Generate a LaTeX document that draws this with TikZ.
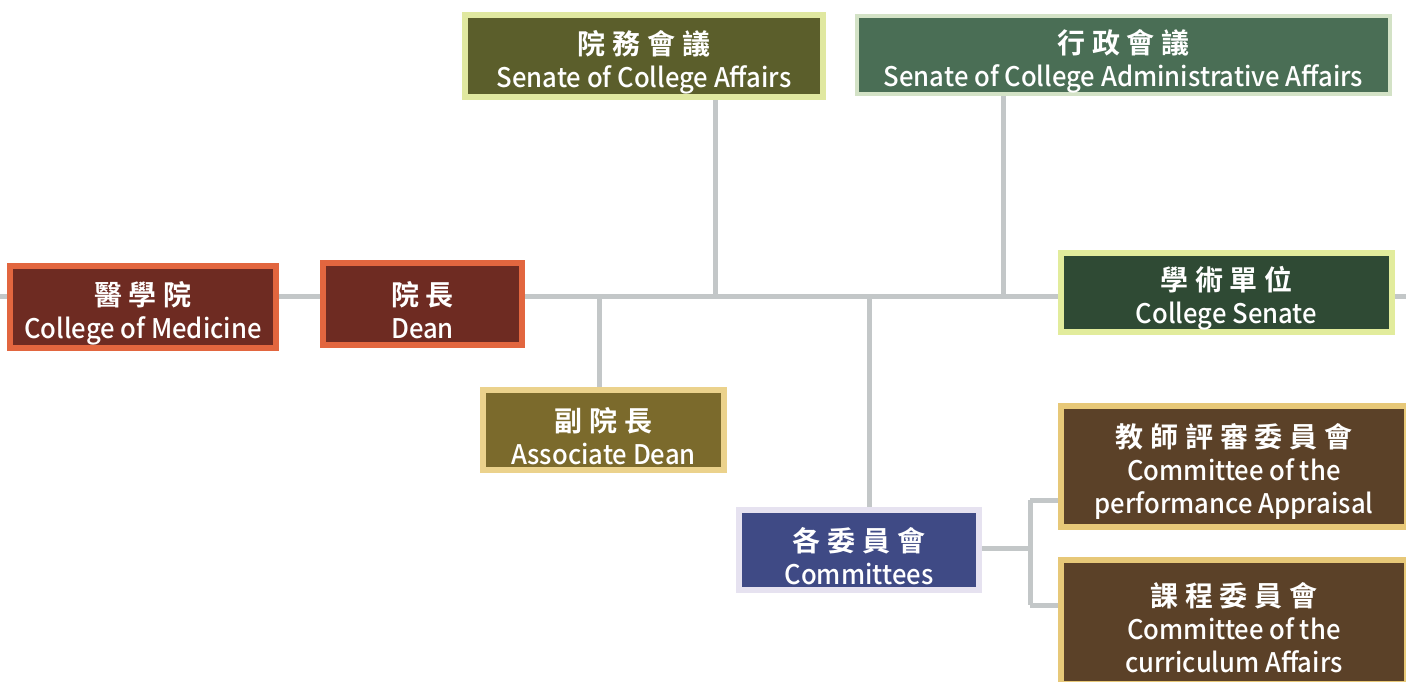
\documentclass[tikz,border=0pt]{standalone}
\usepackage{fontspec}
\setmainfont{Noto Sans CJK TC Medium}[FakeStretch=0.95]
\newfontfamily\cjkfont[LetterSpace=24]{Noto Sans CJK TC Bold}
\usetikzlibrary{positioning,backgrounds}

\definecolor{linegray}{HTML}{C3C7C8}
\definecolor{redfill}{HTML}{6E2B22}
\definecolor{redframe}{HTML}{E2663F}
\definecolor{olivefill}{HTML}{5B5E2B}
\definecolor{oliveframe}{HTML}{E0E8A0}
\definecolor{sagefill}{HTML}{4A6E55}
\definecolor{sageframe}{HTML}{D3E2C6}
\definecolor{darkgfill}{HTML}{2F4A34}
\definecolor{darkgframe}{HTML}{E2EC9C}
\definecolor{goldfill}{HTML}{7B6A2C}
\definecolor{goldframe}{HTML}{EBD28C}
\definecolor{navyfill}{HTML}{3F4A85}
\definecolor{navyframe}{HTML}{E6E2F0}
\definecolor{brownfill}{HTML}{5B4128}
\definecolor{brownframe}{HTML}{E7C878}

% Chinese title line, with a strut that pushes the block down a little
\newcommand{\zh}[1]{{\cjkfont\fontsize{28}{33}\selectfont\rule{0pt}{36pt}#1}}

\begin{document}
\begin{tikzpicture}[x=1pt, y=-1pt,
  box/.style={rectangle, line width=6pt, text=white, align=center,
    inner sep=0pt, font=\fontsize{27}{33}\selectfont},
  link/.style={draw=linegray, line width=5pt}]
\clip (0,0) rectangle (1406,681);

% connectors
\coordinate (lend) at (0,296);
\coordinate (rend) at (1406,296);
\coordinate (jsen) at (715,296);
\coordinate (jadm) at (1003,296);
\coordinate (jass) at (599,296);
\coordinate (jcom) at (869,296);
\coordinate (jfork) at (1030,548);
\coordinate (jtop) at (1030,500);
\coordinate (jbot) at (1030,605);

\node [box, fill=redfill, draw=redframe, minimum width=266pt, minimum
height=82pt] (med) at (143,307) {\zh{醫學院}\\College of Medicine};
\node [box, fill=redfill, draw=redframe, minimum width=199pt, minimum
height=82pt] (dean) at (422.5,304) {\zh{院長}\\Dean};
\node [box, fill=olivefill, draw=oliveframe, minimum width=358pt, minimum
height=82pt] (senaff) at (644,56) {\zh{院務會議}\\Senate of College Affairs};
\node [box, fill=sagefill, draw=sageframe, line width=4pt, minimum width=533pt,
minimum height=78pt] (admaff) at (1123.5,55) {\zh{行政會議}\\Senate of College Administrative Affairs};
\node [box, fill=darkgfill, draw=darkgframe, minimum width=331pt, minimum
height=79pt] (colsen) at (1226.5,292.5) {\zh{學術單位}\\College Senate};
\node [box, fill=goldfill, draw=goldframe, minimum width=241pt, minimum
height=80pt] (assoc) at (603.5,430) {\zh{副院長}\\Associate Dean};
\node [box, fill=navyfill, draw=navyframe, minimum width=240pt, minimum
height=80pt] (comm) at (859,550) {\zh{各委員會}\\Committees};
\node [box, fill=brownfill, draw=brownframe, minimum width=346pt, minimum
height=121pt] (perf) at (1234,466) {\zh{教師評審委員會}\\Committee of the\\performance Appraisal};
\node [box, fill=brownfill, draw=brownframe, minimum width=346pt, minimum
height=124pt] (curr) at (1234,622) {\zh{課程委員會}\\Committee of the\\curriculum Affairs};

\begin{scope}[on background layer]
\draw [link] (lend) -- (lend -| med.west);
\draw [link] (med.east |- lend) -- (lend -| dean.west);
\draw [link] (dean.east |- lend) -- (lend -| colsen.west);
\draw [link] (colsen.east |- rend) -- (rend);
\draw [link] (senaff.south -| jsen) -- (jsen);
\draw [link] (admaff.south -| jadm) -- (jadm);
\draw [link] (jass) -- (assoc.north -| jass);
\draw [link] (jcom) -- (comm.north -| jcom);
\draw [link] (comm.east |- jfork) -- (jfork);
\draw [link] (jtop) -- (jbot);
\draw [link] (jtop) -- (jtop -| perf.west);
\draw [link] (jbot) -- (jbot -| curr.west);
\end{scope}
\end{tikzpicture}
\end{document}
